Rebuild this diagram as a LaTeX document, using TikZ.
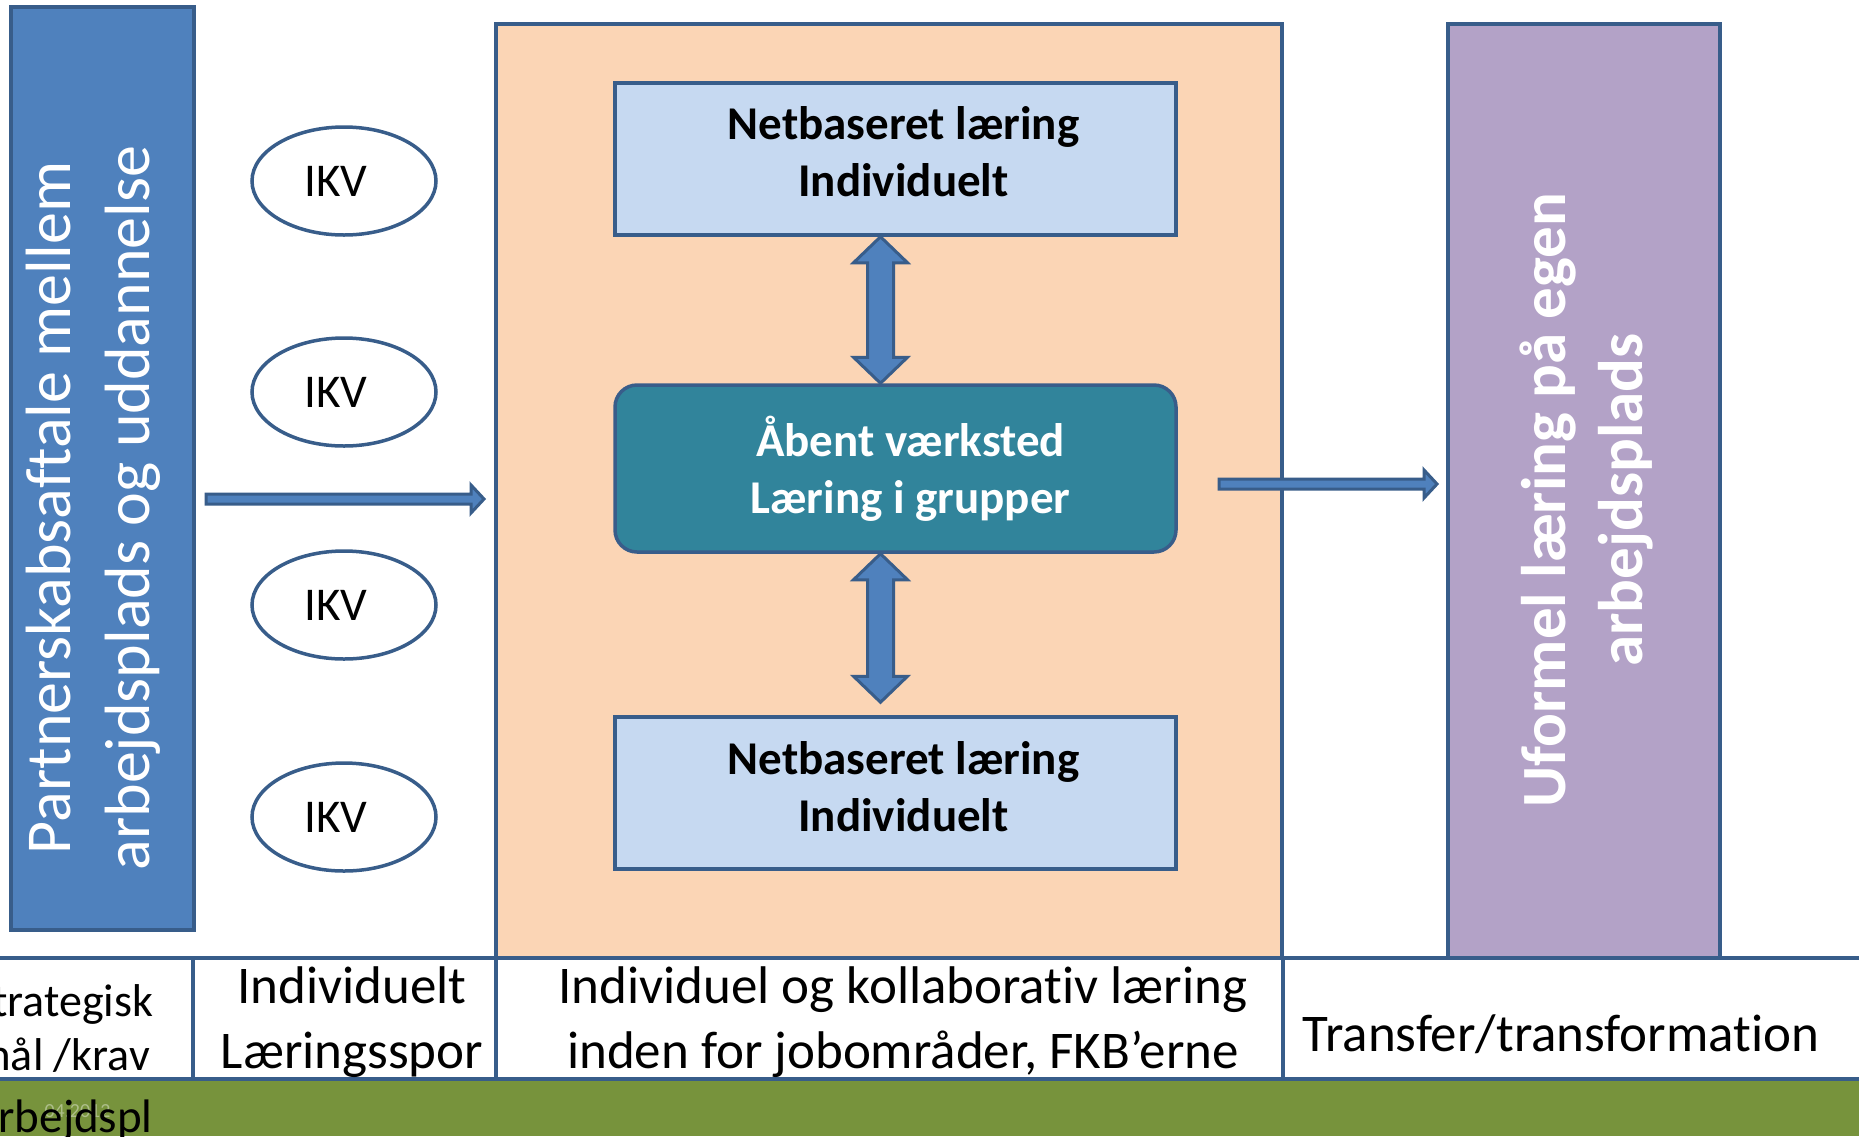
\documentclass[tikz,border=0pt]{standalone}
\usepackage{fontspec}
\setmainfont{Carlito}[Ligatures=NoCommon]
\usetikzlibrary{calc,shapes.geometric}

\definecolor{bordblue}{HTML}{385D8A}
\definecolor{barblue}{HTML}{4F81BD}
\definecolor{peach}{HTML}{FBD5B5}
\definecolor{paleblue}{HTML}{C6D9F1}
\definecolor{tealbox}{HTML}{31849B}
\definecolor{lilac}{HTML}{B3A2C7}
\definecolor{olive}{HTML}{77933C}

\tikzset{
  box/.style={draw=bordblue, line width=3.5pt, inner sep=0pt},
  netbox/.style={box, fill=paleblue, minimum width=561pt, minimum height=152pt},
  boxtext/.style={align=center, inner sep=0pt, font=\bfseries\fontsize{47}{57}\selectfont},
  ikv/.style={ellipse, draw=bordblue, line width=3.5pt, fill=white,
    minimum width=184pt, minimum height=108pt, inner sep=0pt},
  blockarrow/.style={draw=bordblue, fill=barblue, line width=3pt},
  celltext/.style={align=center, inner sep=0pt, font=\fontsize{53}{65}\selectfont},
  sidetext/.style={align=center, inner sep=0pt, font=\fontsize{46}{54}\selectfont},
  tableline/.style={draw=bordblue, line width=4pt},
}

% vertical double block arrow, #1 upper end, #2 lower end
\newcommand{\dblblockarrow}[2]{%
  \draw[blockarrow] let \p1=(#1), \p2=(#2) in
    (\x1,\y1) -- (\x1+27pt,\y1-26pt) -- (\x1+13pt,\y1-26pt) -- (\x1+13pt,\y2+26pt)
    -- (\x1+27pt,\y2+26pt) -- (\x1,\y2) -- (\x1-27pt,\y2+26pt) -- (\x1-13pt,\y2+26pt)
    -- (\x1-13pt,\y1-26pt) -- (\x1-27pt,\y1-26pt) -- cycle;}
% thin block arrow to the right
\newcommand{\blockarrowright}[2]{%
  \draw[blockarrow] let \p1=(#1), \p2=(#2) in
    (\x1,\y1+5pt) -- (\x2-13pt,\y1+5pt) -- (\x2-13pt,\y1+14pt) -- (\x2,\y1)
    -- (\x2-13pt,\y1-14pt) -- (\x2-13pt,\y1-5pt) -- (\x1,\y1-5pt) -- cycle;}

\begin{document}
\begin{tikzpicture}[x=1pt,y=-1pt]
  \useasboundingbox (0,0) rectangle (1859,1136);
  \clip (0,0) rectangle (1859,1136);
  \fill[white] (0,0) rectangle (1859,1136);

  % table at the bottom
  \fill[olive] (0,1081) rectangle (1859,1136);
  \node[font=\fontsize{20}{24}\selectfont, text=olive!60!white, anchor=base east] (date) at (114,1117) {04.2012};
  \node[font=\fontsize{47}{56}\selectfont, inner sep=0pt, anchor=base east] (arb) at (153,1132) {Arbejdspl};

  % columns
  \node[box, fill=barblue, minimum width=183pt, minimum height=923pt] (partner) at (102.5,468.5) {};
  \node[box, fill=peach, minimum width=786pt, minimum height=934pt] (forum) at (889,491) {};
  \node[box, fill=lilac, minimum width=272pt, minimum height=934pt] (uformel) at (1584,491) {};

  \node[rotate=90, align=center, text=white, inner sep=0pt,
    font=\fontsize{64}{79}\selectfont] (partnertxt) at (93,508)
    {Partnerskabsaftale mellem\\arbejdsplads og uddannelse};
  \node[rotate=90, align=center, text=white, inner sep=0pt,
    font=\bfseries\fontsize{63}{77}\selectfont] (uformeltxt) at (1586,500)
    {Uformel læring på egen\\arbejdsplads};

  % IKV
  \foreach \i/\y in {1/181, 2/392, 3/605, 4/817}
    \node[ikv, font=\fontsize{47}{57}\selectfont] (ikv\i) at (344,\y) {\hspace*{-16pt}IKV};

  % inner boxes
  \node[netbox] (nettop) at (895.5,159) {};
  \node[boxtext] at ([xshift=8pt,yshift=7pt]nettop.center) {Netbaseret læring\\Individuelt};
  \node[box, fill=tealbox, rounded corners=22pt, minimum width=561pt, minimum height=167pt] (aabent) at (895.5,468.5) {};
  \node[boxtext, text=white] at ([xshift=15pt]aabent.center) {Åbent værksted\\Læring i grupper};
  \node[netbox] (netbot) at (895.5,793) {};
  \node[boxtext] at ([xshift=8pt,yshift=6pt]netbot.center) {Netbaseret læring\\Individuelt};

  \dblblockarrow{[xshift=-15pt]nettop.south}{[xshift=-15pt]aabent.north}
  \dblblockarrow{[xshift=-15pt]aabent.south}{[xshift=-15pt,yshift=13pt]netbot.north}

  \coordinate (in1) at (206,499);
  \coordinate (in2) at (484,499);
  \coordinate (out1) at (1219,484);
  \coordinate (out2) at (1437,484);
  \blockarrowright{in1}{in2}
  \blockarrowright{out1}{out2}

  % table lines and texts
  \fill[white] (0,960) rectangle (1859,1079);
  \draw[tableline] (0,958) -- (1859,958) (0,1079) -- (1859,1079);
  \foreach \x in {193,496,1283}
    \draw[tableline] (\x,958) -- (\x,1079);
  \node[sidetext] (strat) at (62,1028) {Strategisk\\mål /krav};
  \node[celltext] (indiv) at (352,1022) {Individuelt\\Læringsspor};
  \node[celltext] (kollab) at (903,1022) {Individuel og kollaborativ læring\\inden for jobområder, FKB’erne};
  \node[celltext] (transfer) at (1561,1034) {Transfer/transformation};
\end{tikzpicture}
\end{document}
